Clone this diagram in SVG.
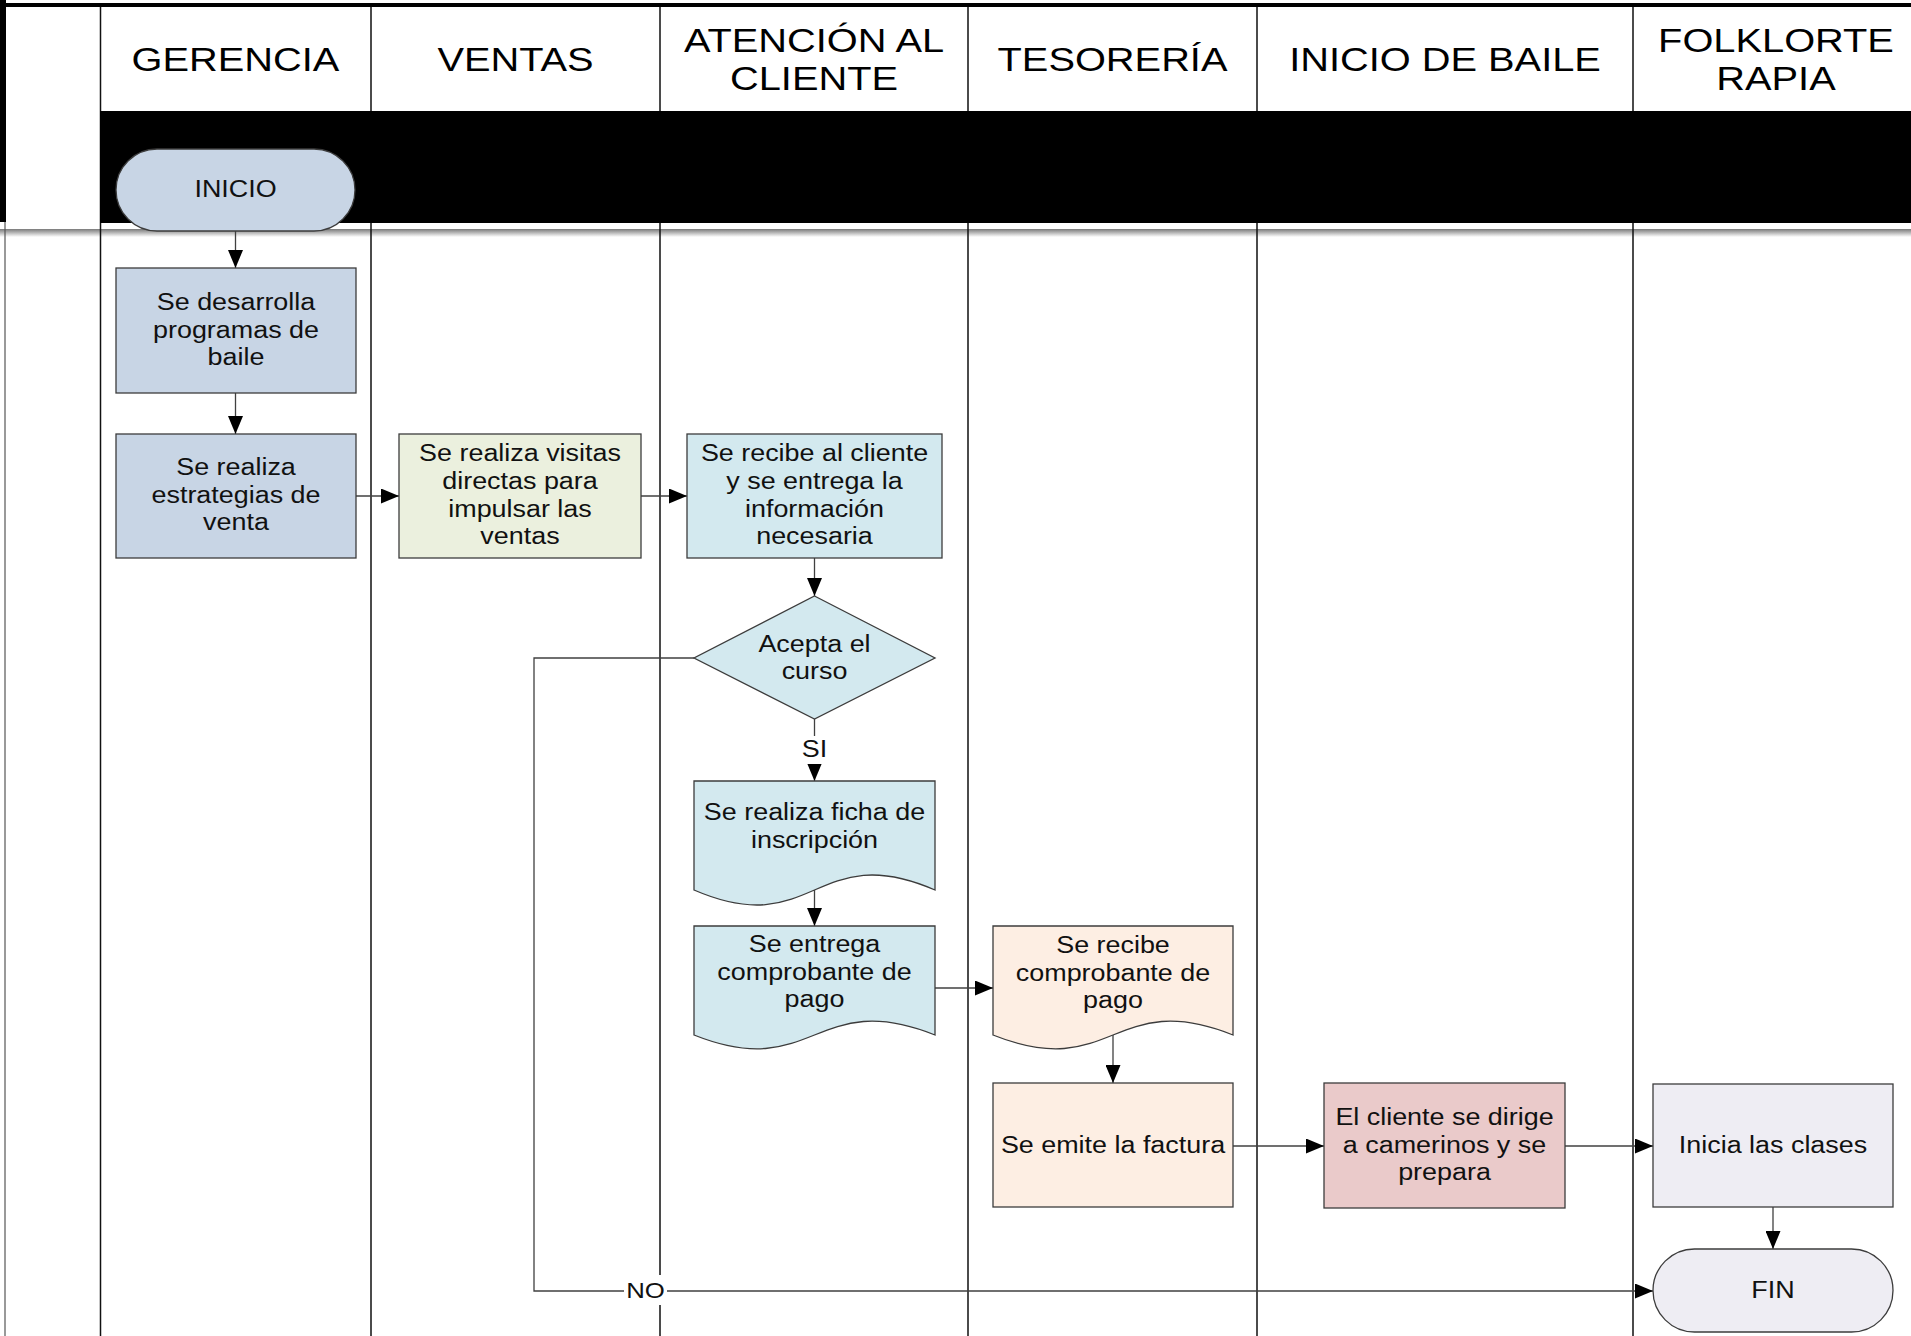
<svg xmlns="http://www.w3.org/2000/svg" width="1911" height="1336" viewBox="0 0 1911 1336">
  <defs>
    <marker id="arr" markerUnits="userSpaceOnUse" markerWidth="18" markerHeight="15" refX="18" refY="7.5" orient="auto">
      <path d="M0,0 L18,7.5 L0,15 z" fill="#000"/>
    </marker>
    <linearGradient id="shadow" x1="0" y1="0" x2="0" y2="1">
      <stop offset="0" stop-color="#7a7a7a"/>
      <stop offset="0.35" stop-color="#a8a8a8"/>
      <stop offset="1" stop-color="#ffffff"/>
    </linearGradient>
  </defs>
  <style>
    .hdr { font-family: "Liberation Sans", Arial, sans-serif; font-size: 34px; fill: #000; text-anchor: middle; }
    .t { font-family: "Liberation Sans", Arial, sans-serif; font-size: 23px; fill: #111; text-anchor: middle; }
    .lbl { font-family: "Liberation Sans", Arial, sans-serif; font-size: 23px; fill: #111; text-anchor: middle; }
    .lane { stroke: #111; stroke-width: 1.5; fill: none; }
    .node { stroke: #3c3c3c; stroke-width: 1.3; }
    .con { stroke: #404040; stroke-width: 1.3; fill: none; }
    .gr { fill: #c8d5e5; }
    .ve { fill: #ebf0de; }
    .at { fill: #d3e9ef; }
    .te { fill: #fdeee3; }
    .ib { fill: #eacaca; }
    .fo { fill: #eeedf3; }
  </style>

  <rect x="0" y="0" width="1911" height="1336" fill="#fff"/>

  <!-- frame & swimlanes -->
  <g id="frame">
    <rect x="0" y="229" width="1911" height="8" fill="url(#shadow)"/>
    <line x1="5" y1="222" x2="5" y2="1336" stroke="#555" stroke-width="1.2"/>
    <line class="lane" x1="100.5" y1="7" x2="100.5" y2="1336"/>
    <path class="lane" d="M371,7 V111 M371,223 V1336 M660,7 V111 M660,223 V1336 M968,7 V111 M968,223 V1336 M1257,7 V111 M1257,223 V1336 M1633,7 V111 M1633,223 V1336"/>
    <rect x="100" y="111" width="1811" height="112" fill="#000"/>
    <rect x="0" y="3" width="1911" height="4" fill="#000"/>
    <rect x="0" y="0" width="6" height="222" fill="#000"/>
    <text class="hdr" transform="translate(235.5 0) scale(1.17 1)" x="0" y="71">GERENCIA</text>
    <text class="hdr" transform="translate(515.5 0) scale(1.17 1)" x="0" y="71">VENTAS</text>
    <text class="hdr" transform="translate(814 0) scale(1.17 1)"><tspan x="0" y="52">ATENCIÓN AL</tspan><tspan x="0" y="90">CLIENTE</tspan></text>
    <text class="hdr" transform="translate(1112.5 0) scale(1.17 1)" x="0" y="71">TESORERÍA</text>
    <text class="hdr" transform="translate(1445 0) scale(1.17 1)" x="0" y="71">INICIO DE BAILE</text>
    <text class="hdr" transform="translate(1776 0) scale(1.17 1)"><tspan x="0" y="52">FOLKLORTE</tspan><tspan x="0" y="90">RAPIA</tspan></text>
  </g>

  <!-- connectors -->
  <g id="connectors">
    <line class="con" x1="235.5" y1="231" x2="235.5" y2="268" marker-end="url(#arr)"/>
    <line class="con" x1="235.5" y1="393" x2="235.5" y2="434" marker-end="url(#arr)"/>
    <line class="con" x1="356" y1="496" x2="399" y2="496" marker-end="url(#arr)"/>
    <line class="con" x1="641" y1="496" x2="687" y2="496" marker-end="url(#arr)"/>
    <line class="con" x1="814.5" y1="558" x2="814.5" y2="596" marker-end="url(#arr)"/>
    <line class="con" x1="814.5" y1="719" x2="814.5" y2="781" marker-end="url(#arr)"/>
    <line class="con" x1="814.5" y1="890" x2="814.5" y2="926" marker-end="url(#arr)"/>
    <line class="con" x1="935" y1="988" x2="993" y2="988" marker-end="url(#arr)"/>
    <line class="con" x1="1113" y1="1035" x2="1113" y2="1083" marker-end="url(#arr)"/>
    <line class="con" x1="1233" y1="1146" x2="1324" y2="1146" marker-end="url(#arr)"/>
    <line class="con" x1="1565" y1="1146" x2="1653" y2="1146" marker-end="url(#arr)"/>
    <line class="con" x1="1773" y1="1207" x2="1773" y2="1249" marker-end="url(#arr)"/>
    <polyline class="con" points="694,658 534,658 534,1291 1653,1291" marker-end="url(#arr)"/>
    <rect x="800" y="736" width="29" height="28" fill="#fff"/>
    <text class="lbl" transform="translate(814.5 0) scale(1.17 1)" x="0" y="757">SI</text>
    <rect x="624" y="1275" width="43" height="30" fill="#fff"/>
    <text class="lbl" transform="translate(645.5 0) scale(1.12 1)" x="0" y="1298">NO</text>
  </g>

  <!-- nodes -->
  <g id="inicio">
    <rect class="node gr" x="116" y="149" width="239" height="82" rx="41" ry="41"/>
    <text class="t" transform="translate(235.5 0) scale(1.17 1)" x="0" y="197">INICIO</text>
  </g>
  <g id="desarrolla">
    <rect class="node gr" x="116" y="268" width="240" height="125"/>
    <text class="t" transform="translate(236 0) scale(1.17 1)"><tspan x="0" y="310">Se desarrolla</tspan><tspan x="0" y="338">programas de</tspan><tspan x="0" y="365">baile</tspan></text>
  </g>
  <g id="estrategias">
    <rect class="node gr" x="116" y="434" width="240" height="124"/>
    <text class="t" transform="translate(236 0) scale(1.17 1)"><tspan x="0" y="475">Se realiza</tspan><tspan x="0" y="503">estrategias de</tspan><tspan x="0" y="530">venta</tspan></text>
  </g>
  <g id="visitas">
    <rect class="node ve" x="399" y="434" width="242" height="124"/>
    <text class="t" transform="translate(520 0) scale(1.17 1)"><tspan x="0" y="461">Se realiza visitas</tspan><tspan x="0" y="489">directas para</tspan><tspan x="0" y="517">impulsar las</tspan><tspan x="0" y="544">ventas</tspan></text>
  </g>
  <g id="recibe-cliente">
    <rect class="node at" x="687" y="434" width="255" height="124"/>
    <text class="t" transform="translate(814.5 0) scale(1.17 1)"><tspan x="0" y="461">Se recibe al cliente</tspan><tspan x="0" y="489">y se entrega la</tspan><tspan x="0" y="517">información</tspan><tspan x="0" y="544">necesaria</tspan></text>
  </g>
  <g id="acepta">
    <polygon class="node at" points="814.5,596 935,658 814.5,719 694,658"/>
    <text class="t" transform="translate(814.5 0) scale(1.17 1)"><tspan x="0" y="652">Acepta el</tspan><tspan x="0" y="679">curso</tspan></text>
  </g>
  <g id="ficha">
    <path class="node at" d="M694,781 H935 V890 C814.5,838 814.5,942 694,890 Z"/>
    <text class="t" transform="translate(814.5 0) scale(1.17 1)"><tspan x="0" y="820">Se realiza ficha de</tspan><tspan x="0" y="848">inscripción</tspan></text>
  </g>
  <g id="entrega-comprobante">
    <path class="node at" d="M694,926 H935 V1035 C814.5,987 814.5,1083 694,1035 Z"/>
    <text class="t" transform="translate(814.5 0) scale(1.17 1)"><tspan x="0" y="952">Se entrega</tspan><tspan x="0" y="980">comprobante de</tspan><tspan x="0" y="1007">pago</tspan></text>
  </g>
  <g id="recibe-comprobante">
    <path class="node te" d="M993,926 H1233 V1035 C1113,987 1113,1083 993,1035 Z"/>
    <text class="t" transform="translate(1113 0) scale(1.17 1)"><tspan x="0" y="953">Se recibe</tspan><tspan x="0" y="981">comprobante de</tspan><tspan x="0" y="1008">pago</tspan></text>
  </g>
  <g id="factura">
    <rect class="node te" x="993" y="1083" width="240" height="124"/>
    <text class="t" transform="translate(1113 0) scale(1.17 1)" x="0" y="1153">Se emite la factura</text>
  </g>
  <g id="camerinos">
    <rect class="node ib" x="1324" y="1083" width="241" height="125"/>
    <text class="t" transform="translate(1444.5 0) scale(1.17 1)"><tspan x="0" y="1125">El cliente se dirige</tspan><tspan x="0" y="1153">a camerinos y se</tspan><tspan x="0" y="1180">prepara</tspan></text>
  </g>
  <g id="clases">
    <rect class="node fo" x="1653" y="1084" width="240" height="123"/>
    <text class="t" transform="translate(1773 0) scale(1.17 1)" x="0" y="1153">Inicia las clases</text>
  </g>
  <g id="fin">
    <rect class="node fo" x="1653" y="1249" width="240" height="83" rx="41.5" ry="41.5"/>
    <text class="t" transform="translate(1773 0) scale(1.17 1)" x="0" y="1298">FIN</text>
  </g>
</svg>
